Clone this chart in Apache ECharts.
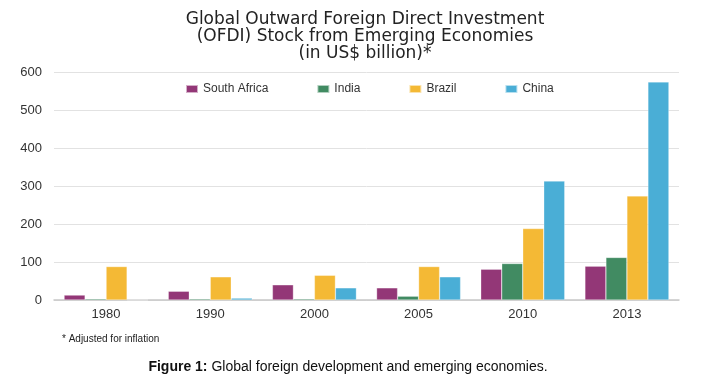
<!DOCTYPE html>
<html>
<head>
<meta charset="utf-8">
<script src="https://cdn.jsdelivr.net/npm/echarts@6/dist/echarts.min.js"></script>
<style>
    html, body { margin: 0; padding: 0; background: #fff; }
    #main { width: 704px; height: 383px; }
</style>
</head>
<body>
<div id="main"></div>
<script>
    //年份
    var years = ['1980', '1990', '2000', '2005', '2010', '2013'];
    var seriesNames = ['South Africa', 'India', 'Brazil', 'China'];

    //各国数据 (US$ billion)
    var southAfrica = [13, 23, 40, 32, 81, 89];
    var india = [3, 3, 3, 10, 96, 112];
    var brazil = [88, 61, 65, 88, 188, 274];
    var china = [0, 5, 32, 61, 313, 574];

    var colors = ['#933777', '#418b62', '#f4b935', '#4aaed6'];
    var font = "'Liberation Sans', Arial, sans-serif";

    var myBar = echarts.init(document.getElementById('main'));

    function barSeries(name, data) {
        return {
            name: name,
            type: 'bar',
            barWidth: 21,
            barGap: '0%',
            itemStyle: {
                borderColor: 'rgba(255,255,255,0.6)',
                borderWidth: 0.5
            },
            data: data
        };
    }

    var option = {
        animation: false,
        color: colors,
        textStyle: { fontFamily: font },
        title: {
            text: 'Global Outward Foreign Direct Investment\n(OFDI) Stock from Emerging Economies\n(in US$ billion)*',
            left: 365,
            top: 11,
            padding: 0,
            textAlign: 'center',
            textStyle: {
                fontFamily: "'DejaVu Sans', sans-serif",
                fontSize: 17,
                fontWeight: 'normal',
                color: '#222',
                lineHeight: 17
            }
        },
        legend: {
            data: seriesNames,
            left: 185,
            top: 83,
            padding: 0,
            itemWidth: 12,
            itemHeight: 8,
            itemGap: 48,
            icon: 'rect',
            textStyle: {
                fontFamily: font,
                fontSize: 12,
                color: '#333'
            }
        },
        grid: {
            left: 54,
            right: 25,
            top: 72,
            bottom: 83
        },
        xAxis: {
            type: 'category',
            data: years,
            axisTick: { show: false },
            axisLine: { lineStyle: { color: '#c8c8c8', width: 1.5 } },
            axisLabel: {
                color: '#333',
                fontSize: 13,
                margin: 8
            }
        },
        yAxis: {
            type: 'value',
            min: 0,
            max: 600,
            interval: 100,
            axisLine: { show: false },
            axisTick: { show: false },
            axisLabel: {
                color: '#333',
                fontSize: 13,
                margin: 12
            },
            splitLine: { lineStyle: { color: '#e2e2e2', width: 1 } }
        },
        graphic: [
            {
                type: 'text',
                left: 62,
                top: 334,
                style: {
                    text: '* Adjusted for inflation',
                    fontFamily: font,
                    fontSize: 10,
                    fill: '#222'
                }
            },
            {
                type: 'text',
                x: 348,
                y: 367,
                style: {
                    text: '{b|Figure 1:} Global foreign development and emerging economies.',
                    align: 'center',
                    verticalAlign: 'middle',
                    fontFamily: font,
                    fontSize: 14,
                    fill: '#111',
                    rich: {
                        b: { fontFamily: font, fontSize: 14, fontWeight: 'bold', fill: '#111' }
                    }
                }
            }
        ],
        series: [
            barSeries(seriesNames[0], southAfrica),
            barSeries(seriesNames[1], india),
            barSeries(seriesNames[2], brazil),
            barSeries(seriesNames[3], china)
        ]
    };

    myBar.setOption(option);
</script>
</body>
</html>
